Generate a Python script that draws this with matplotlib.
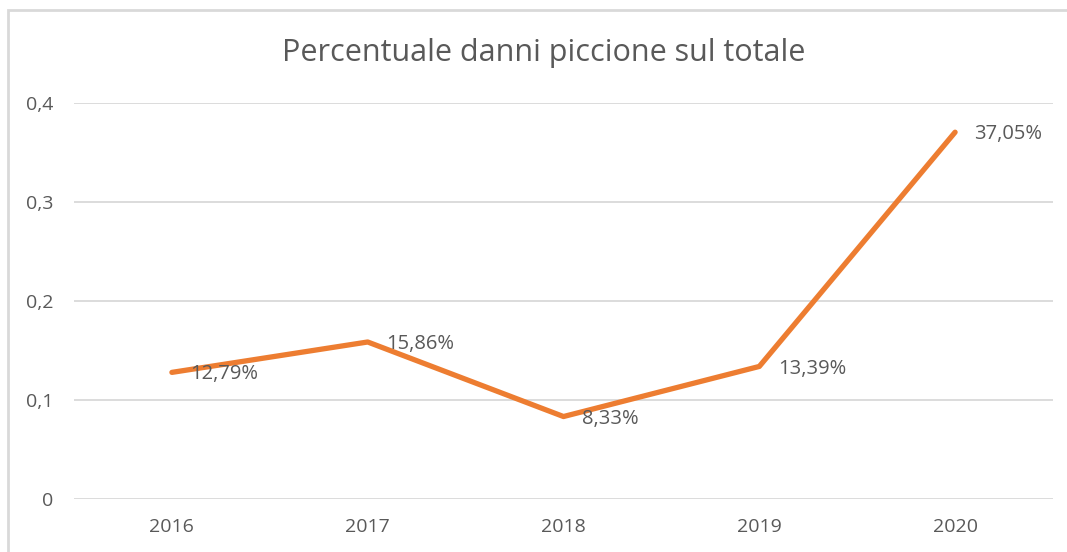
import matplotlib.pyplot as plt
from matplotlib.patches import Rectangle

years = ['2016', '2017', '2018', '2019', '2020']
share = [0.1279, 0.1586, 0.0833, 0.1339, 0.3705]
labels = ['12,79%', '15,86%', '8,33%', '13,39%', '37,05%']
yticks = [0, 0.1, 0.2, 0.3, 0.4]
ytick_labels = ['0', '0,1', '0,2', '0,3', '0,4']

plt.rcParams['font.family'] = ['Open Sans', 'DejaVu Sans']
text_col = '#595959'
grid_col = '#D9D9D9'

fig = plt.figure(figsize=(10.67, 5.52), dpi=100)
ax = fig.add_axes([74 / 1067, 1 - 499 / 552, (1053 - 74) / 1067, (499 - 103) / 552])

# chart frame (only left and top edges are inside the picture)
fig.patches.append(Rectangle((8 / 1067, -0.1), 1.2, 1 - 10 / 552 + 0.1,
                             transform=fig.transFigure, fill=False,
                             edgecolor=grid_col, linewidth=2))

x = list(range(len(years)))
ax.plot(x, share, color='#ED7D31', linewidth=3.8, solid_capstyle='round',
        solid_joinstyle='round', zorder=3)

for xi, yi, lab in zip(x, share, labels):
    ax.annotate(lab, (xi, yi), xytext=(13.5, -1.5), textcoords='offset points',
                ha='left', va='center', fontsize=14.5, color=text_col)

ax.set_xlim(-0.5, 4.5)
ax.set_ylim(0, 0.4)
ax.set_xticks(x)
ax.set_xticklabels(years)
ax.set_yticks(yticks)
ax.set_yticklabels(ytick_labels)
ax.tick_params(length=0, labelsize=14, labelcolor=text_col)
ax.tick_params(axis='y', pad=15)
ax.tick_params(axis='x', pad=14)
ax.yaxis.grid(True, color=grid_col, linewidth=1.3)
ax.set_axisbelow(True)
for s in ax.spines.values():
    s.set_visible(False)

fig.text(544 / 1067, 1 - 53 / 552, 'Percentuale danni piccione sul totale',
         ha='center', va='center', fontsize=22, color=text_col)

fig.savefig('out.png', dpi=100)
